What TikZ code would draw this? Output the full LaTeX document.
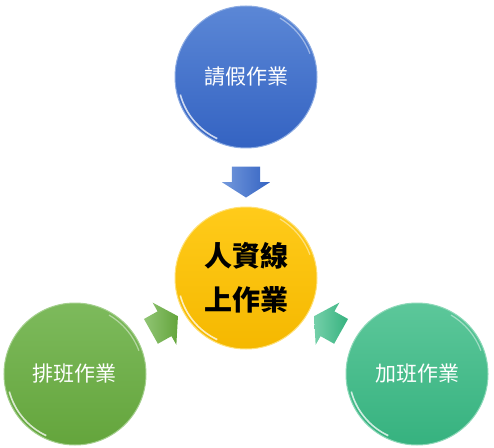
\documentclass[tikz,border=0pt]{standalone}
\usepackage{fontspec}
\newfontfamily\cjk{Noto Sans CJK TC}
\usetikzlibrary{positioning,calc,shapes.arrows}

\definecolor{blueA}{HTML}{5B87D6}
\definecolor{blueB}{HTML}{3463C2}
\definecolor{goldA}{HTML}{FFCB1A}
\definecolor{goldB}{HTML}{F5B800}
\definecolor{greenA}{HTML}{7DBA5C}
\definecolor{greenB}{HTML}{64A53C}
\definecolor{tealA}{HTML}{5CC79A}
\definecolor{tealB}{HTML}{36B27F}

\begin{document}
\begin{tikzpicture}[
  node distance=96pt and 171pt,
  on grid,
  gleam/.style={path picture={
      \draw[white, opacity=0.75, line width=1.6pt]
        ($(path picture bounding box.center)+(195:68pt)$) arc[start angle=195, end angle=245, radius=68pt];
      \draw[white, opacity=0.45, line width=1.2pt]
        ($(path picture bounding box.center)+(20:68pt)$) arc[start angle=20, end angle=60, radius=68pt];}},
  task/.style={circle, minimum size=142pt, inner sep=0pt, gleam, text=white, font=\cjk\fontsize{21}{25}\selectfont},
  core/.style={circle, minimum size=142pt, inner sep=0pt, gleam, align=center, font=\cjk\bfseries\fontsize{28}{44}\selectfont},
  flow/.style={single arrow, minimum height=31pt, inner xsep=0pt, inner ysep=14pt,
    single arrow head extend=10pt, single arrow tip angle=115}
]

\useasboundingbox (-246pt,-169pt) rectangle (248pt,278pt);

\node[core, top color=goldA, bottom color=goldB, draw=goldA!60!white, line width=1pt] (hr) {人資線\\上作業};
\node[task, top color=blueA, bottom color=blueB, draw=blueA!70!white, line width=1pt, above=201pt of hr] (leave) {請假作業};
\node[task, top color=greenA, bottom color=greenB, draw=greenA!70!white, line width=1pt, below left=of hr] (shift) {排班作業};
\node[task, top color=tealA, bottom color=tealB, draw=tealA!70!white, line width=1pt, below right=of hr] (overtime) {加班作業};

\node[flow, left color=blueA!85!white, right color=blueB, rotate=-90] (to-leave) at ($(leave)!0.5!(hr)$) {};
\node[flow, left color=greenA!85!white, right color=greenB, rotate=29.3] (to-shift) at ($(shift)!0.5!(hr)$) {};
\node[flow, left color=tealA!85!white, right color=tealB, rotate=150.7] (to-overtime) at ($(overtime)!0.5!(hr)$) {};

\end{tikzpicture}
\end{document}
